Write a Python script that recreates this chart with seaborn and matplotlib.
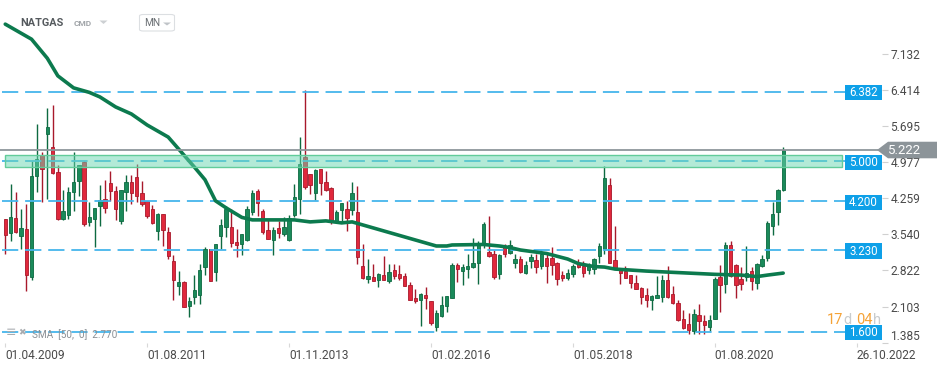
import matplotlib
matplotlib.use("Agg")
import matplotlib.pyplot as plt
import matplotlib.transforms as mtrans
from matplotlib.patches import Rectangle, Polygon, FancyBboxPatch
import numpy as np
import pandas as pd
import seaborn as sns

# ---------------- data (monthly NATGAS candles) ----------------
opens = [3.84, 3.56, 3.86, 3.50, 3.65, 2.70, 4.71, 5.12, 5.54, 5.29,
         4.78, 3.84, 3.93, 4.38, 4.60, 4.99, 3.78, 3.84, 4.10, 4.24,
         4.56, 4.41, 3.80, 4.38, 4.58, 4.68, 4.36, 4.20, 4.04, 3.60,
         3.94, 3.59, 3.01, 2.52, 2.60, 2.12, 2.30, 2.34, 2.90, 3.24,
         2.80, 3.50, 3.68, 3.68, 3.38, 3.34, 3.42, 3.98, 4.40, 4.01,
         3.62, 3.42, 3.66, 3.54, 3.42, 3.92, 4.24, 5.09, 4.74, 4.36,
         4.84, 4.58, 4.46, 3.80, 4.03, 4.04, 4.02, 3.98, 2.92, 2.66,
         2.70, 2.64, 2.74, 2.62, 2.83, 2.76, 2.71, 2.54, 2.28, 2.24,
         2.33, 2.22, 1.70, 1.92, 2.12, 2.28, 2.94, 2.82, 2.86, 2.90,
         2.98, 3.34, 3.20, 3.16, 2.76, 3.28, 3.18, 2.98, 3.05, 2.78,
         3.02, 3.03, 2.92, 3.08, 3.08, 2.98, 2.73, 2.68, 2.76, 2.95,
         2.91, 2.84, 2.86, 3.12, 3.25, 4.53, 3.03, 2.88, 2.82, 2.73,
         2.58, 2.48, 2.33, 2.24, 2.28, 2.30, 2.64, 2.36, 2.18, 1.86,
         1.75, 1.62, 1.94, 1.81, 1.70, 1.86, 2.70, 2.56, 3.33, 2.93,
         2.65, 2.70, 2.81, 2.58, 2.92, 3.08, 3.70, 3.98, 4.42]
highs = [3.85, 4.55, 4.38, 4.05, 4.15, 5.00, 5.75, 5.18, 6.05, 6.11,
         4.92, 4.42, 4.49, 5.18, 4.93, 5.01, 4.18, 4.07, 4.52, 4.63,
         4.81, 4.50, 4.43, 4.72, 4.73, 4.95, 4.61, 4.20, 4.13, 3.96,
         3.95, 3.69, 3.14, 2.82, 2.61, 2.29, 2.74, 2.96, 3.28, 3.25,
         3.35, 3.84, 4.10, 4.04, 3.65, 3.55, 4.10, 4.43, 4.44, 4.05,
         3.84, 3.68, 3.80, 3.88, 3.93, 4.55, 5.48, 6.41, 4.75, 4.84,
         4.85, 4.81, 4.48, 4.02, 4.17, 4.20, 4.58, 4.51, 3.34, 3.05,
         2.95, 2.78, 3.11, 2.95, 2.95, 2.93, 2.78, 2.60, 2.45, 2.38,
         2.50, 2.22, 2.03, 2.32, 2.31, 2.98, 2.98, 2.95, 3.16, 3.46,
         3.40, 3.78, 3.91, 3.23, 3.15, 3.34, 3.43, 3.16, 3.11, 3.01,
         3.16, 3.16, 3.22, 3.16, 3.28, 3.00, 2.81, 2.85, 2.96, 3.05,
         3.01, 2.98, 3.07, 3.36, 4.91, 4.66, 3.71, 2.88, 2.91, 2.73,
         2.73, 2.49, 2.48, 2.33, 2.71, 2.74, 2.91, 2.51, 2.24, 2.03,
         1.98, 2.06, 2.16, 1.93, 1.93, 2.70, 2.93, 3.38, 3.40, 2.95,
         2.90, 3.31, 2.90, 2.98, 3.14, 3.81, 4.18, 4.44, 5.28]
lows = [3.16, 3.40, 3.56, 3.24, 2.42, 2.63, 4.38, 4.18, 4.24, 4.74,
        3.83, 3.82, 3.85, 4.00, 4.30, 3.70, 3.70, 3.28, 3.71, 3.96,
        4.21, 3.83, 3.74, 4.00, 4.15, 4.18, 4.10, 3.86, 3.74, 3.43,
        3.30, 3.06, 2.24, 2.33, 2.09, 1.90, 2.16, 2.16, 2.73, 2.61,
        2.62, 3.25, 3.48, 3.28, 3.10, 3.14, 3.41, 3.93, 3.91, 3.54,
        3.44, 3.14, 3.46, 3.50, 3.40, 3.88, 3.95, 4.45, 4.34, 4.23,
        4.33, 4.40, 3.75, 3.78, 3.78, 3.60, 3.93, 2.96, 2.65, 2.58,
        2.61, 2.50, 2.64, 2.58, 2.65, 2.63, 2.51, 2.23, 2.18, 1.72,
        2.05, 1.73, 1.61, 1.90, 2.00, 2.28, 2.60, 2.54, 2.68, 2.88,
        2.56, 3.26, 3.10, 2.65, 2.65, 3.10, 3.16, 2.88, 2.78, 2.75,
        2.88, 2.78, 2.85, 2.58, 2.74, 2.53, 2.62, 2.63, 2.70, 2.88,
        2.70, 2.76, 2.75, 2.98, 3.16, 2.97, 2.86, 2.55, 2.67, 2.48,
        2.46, 2.15, 2.10, 2.04, 2.27, 2.20, 2.28, 2.15, 1.82, 1.66,
        1.56, 1.56, 1.56, 1.56, 1.62, 1.85, 2.00, 2.38, 2.70, 2.28,
        2.43, 2.61, 2.44, 2.45, 2.90, 3.02, 3.53, 3.73, 4.41]
closes = [3.52, 3.88, 3.58, 3.66, 2.74, 4.71, 5.05, 4.84, 5.69, 4.76,
          3.84, 4.01, 4.39, 4.58, 4.92, 3.75, 3.88, 4.06, 4.23, 4.06,
          4.40, 4.04, 4.42, 4.58, 4.36, 4.30, 4.14, 3.90, 3.76, 3.94,
          3.62, 3.12, 2.64, 2.60, 2.10, 2.21, 2.43, 2.84, 3.24, 2.62,
          3.34, 3.73, 4.05, 3.36, 3.33, 3.54, 4.05, 4.36, 4.16, 3.58,
          3.44, 3.62, 3.56, 3.68, 3.86, 4.28, 4.94, 4.48, 4.52, 4.83,
          4.56, 4.43, 3.78, 3.98, 4.16, 3.86, 4.36, 3.10, 2.68, 2.72,
          2.62, 2.75, 2.64, 2.80, 2.71, 2.68, 2.52, 2.24, 2.21, 2.35,
          2.28, 1.78, 1.98, 2.14, 2.31, 2.94, 2.86, 2.89, 2.92, 2.98,
          3.34, 3.74, 3.12, 2.70, 3.14, 3.15, 3.33, 3.05, 2.80, 2.94,
          3.10, 2.90, 3.16, 2.92, 2.93, 2.66, 2.68, 2.78, 2.91, 2.90,
          2.78, 2.91, 3.06, 3.31, 4.66, 2.98, 2.86, 2.78, 2.68, 2.58,
          2.46, 2.30, 2.24, 2.31, 2.34, 2.64, 2.30, 2.18, 1.84, 1.68,
          1.64, 1.96, 1.82, 1.74, 1.83, 2.65, 2.54, 3.33, 2.72, 2.54,
          2.56, 2.78, 2.61, 2.95, 3.06, 3.76, 3.94, 4.42, 5.222]

# SMA(50) line, read at selected months
sma_month = [0, 5, 8, 10, 13, 16, 18, 21, 24, 27, 29, 31, 33, 36, 38, 40, 42, 45,
             47, 50, 55, 58, 61, 64, 66, 68, 73, 76, 79, 82, 84, 85, 91, 94, 96,
             98, 103, 107, 109, 112, 114, 116, 122, 128, 135, 140, 143, 145, 148]
sma_value = [7.73, 7.43, 7.05, 6.70, 6.46, 6.37, 6.28, 6.08, 5.94, 5.72, 5.60,
             5.48, 5.24, 4.88, 4.63, 4.21, 4.07, 3.88, 3.83, 3.83, 3.83, 3.79,
             3.81, 3.77, 3.79, 3.73, 3.58, 3.49, 3.40, 3.31, 3.31, 3.33, 3.34,
             3.31, 3.28, 3.23, 3.16, 3.05, 2.96, 2.90, 2.89, 2.85, 2.81, 2.78,
             2.745, 2.73, 2.70, 2.73, 2.77]

levels = [6.382, 5.000, 4.200, 3.230, 1.600]
level_labels = ["6.382", "5.000", "4.200", "3.230", "1.600"]
zone_low, zone_high = 4.88, 5.13
last_price = 5.222
last_label = "5.222"
ytick_values = [1.385, 2.103, 2.822, 3.540, 4.259, 4.977, 5.695, 6.414, 7.132]
ytick_labels = ["1.385", "2.103", "2.822", "3.540", "4.259", "4.977", "5.695", "6.414", "7.132"]
xtick_months = [0, 27, 54, 81, 108, 135, 162]
xtick_labels = ["01.04.2009", "01.08.2011", "01.11.2013", "01.02.2016",
                "01.05.2018", "01.08.2020", "26.10.2022"]

# ---------------- styling ----------------
sns.set_theme(style="white")
plt.rcParams["font.family"] = ["Roboto", "DejaVu Sans"]

W, H = 950, 367
fig = plt.figure(figsize=(W / 100, H / 100), dpi=100)
ax = fig.add_axes([0, 24 / H, 882 / W, 343 / H])

df = pd.DataFrame({"month": np.arange(len(opens)), "open": opens, "high": highs,
                   "low": lows, "close": closes})
df["up"] = df["close"] >= df["open"]
up_fc, up_ec = "#1a8a5a", "#0d6a41"
dn_fc, dn_ec = "#e0283c", "#a8192b"

for up, fc, ec in [(True, up_fc, up_ec), (False, dn_fc, dn_ec)]:
    d = df[df["up"] == up]
    ax.vlines(d["month"], d["low"], d["high"], color=ec, lw=1.0, zorder=2)
    body_lo = np.minimum(d["open"], d["close"])
    body_h = np.maximum(np.abs(d["close"] - d["open"]), 0.02)
    ax.bar(d["month"], body_h, bottom=body_lo, width=0.64, color=fc,
           edgecolor=ec, linewidth=0.6, zorder=3)

sns.lineplot(x=sma_month, y=sma_value, ax=ax, color="#0c7a4e", lw=2.6,
             zorder=4, sort=False)

# dashed support / resistance lines
ax.hlines(levels, -0.6, 159.7, colors="#45b5ec", linestyles=(0, (9, 3.8)),
          lw=1.3, zorder=3.5)

# zone band
ax.add_patch(Rectangle((0, zone_low), 159.2, zone_high - zone_low,
                       facecolor=(0.41, 0.84, 0.69, 0.5), edgecolor="#62cc9a",
                       lw=1.0, zorder=5))

# last price line
ax.plot([-1, 166.0], [last_price, last_price], color="#8e969b", lw=1.3, zorder=6)

ax.set_xlim(-1.0, 166.8)
ax.set_ylim(1.377, 8.211)

blend = mtrans.blended_transform_factory(ax.transAxes, ax.transData)
for lv, lab in zip(levels, level_labels):
    ax.add_patch(Rectangle((845 / 882, lv - 0.17), 37 / 882, 0.30, transform=blend,
                           facecolor="#0ea0e8", edgecolor="none", zorder=7,
                           clip_on=False))
    ax.text(863.5 / 882, lv - 0.02, lab, transform=blend, color="white",
            fontsize=8.3, ha="center", va="center", zorder=8, clip_on=False)

# last price tag
tag = Polygon([(877 / 882, last_price), (888 / 882, last_price + 0.165),
               (937 / 882, last_price + 0.165), (937 / 882, last_price - 0.165),
               (888 / 882, last_price - 0.165)], closed=True, transform=blend,
              facecolor="#8c9499", edgecolor="none", zorder=7, clip_on=False)
ax.add_patch(tag)
ax.text(905 / 882, last_price, last_label, transform=blend, color="white",
        fontsize=9.5, ha="center", va="center", zorder=8, clip_on=False)

# axes / ticks
for s in ax.spines.values():
    s.set_visible(False)
ax.yaxis.tick_right()
ax.set_yticks(ytick_values, ytick_labels)
ax.set_xticks(xtick_months, xtick_labels)
ax.tick_params(axis="y", length=4, width=0.8, color="#d0d0d0", pad=2,
               labelsize=8.6, labelcolor="#4a4a4a", right=True, left=False)
ax.tick_params(axis="x", length=3, width=0.8, color="#d8d8d8", pad=1.5,
               labelsize=8.6, labelcolor="#4a4a4a", bottom=True)
for lab in ax.get_xticklabels():
    lab.set_ha("left")
ax.get_yticklabels()[0].set_va("bottom")
ax.grid(False)
ax.set_xlabel("")
ax.set_ylabel("")

# ---------------- header / overlay texts ----------------
def fx(x):
    return x / W

def fy(y):
    return 1 - y / H

fig.text(fx(20), fy(23), "NATGAS", fontsize=7.8, fontweight="bold", color="#555a5e",
         va="center", ha="left")
fig.text(fx(74), fy(24), "CMD", fontsize=6.0, fontweight="bold", color="#a0a4a8",
         va="center", ha="left")
fig.add_artist(Polygon([(fx(99.5), fy(20.5)), (fx(107.5), fy(20.5)), (fx(103.5), fy(24))],
                       closed=True, facecolor="#cdd0d3", edgecolor="none",
                       transform=fig.transFigure))
fig.add_artist(FancyBboxPatch((fx(139.5), fy(31)), fx(35), 16.5 / H,
                              boxstyle="round,pad=0,rounding_size=0.004",
                              facecolor="white", edgecolor="#dcdfe2", lw=0.8,
                              transform=fig.transFigure))
fig.text(fx(144), fy(23.5), "MN", fontsize=7.3, color="#6b7074", va="center", ha="left")
fig.add_artist(Polygon([(fx(163), fy(22.5)), (fx(171), fy(22.5)), (fx(167), fy(25.5))],
                       closed=True, facecolor="#c0c4c8", edgecolor="none",
                       transform=fig.transFigure))

# SMA legend (bottom left)
fig.text(fx(5.5), fy(332.5), "≡", fontsize=9, color="#a8acb0", va="center", ha="left",
         family=["DejaVu Sans"])
fig.text(fx(18.5), fy(333), "✖", fontsize=6.5, color="#a8acb0", va="center", ha="left",
         family=["DejaVu Sans"])
fig.text(fx(32), fy(335), "SMA  [50,  0]  2.770", fontsize=7.2, color="#8a8f94",
         va="center", ha="left")

# countdown
for x, t, c in [(826.5, "17", "#f5a236"), (843, "d", "#c9ccce"),
                (856.5, "04", "#f5a236"), (873, "h", "#c9ccce")]:
    fig.text(fx(x), fy(320.5), t, fontsize=10.5, color=c, va="center", ha="left")

fig.savefig("out.png", dpi=100)
